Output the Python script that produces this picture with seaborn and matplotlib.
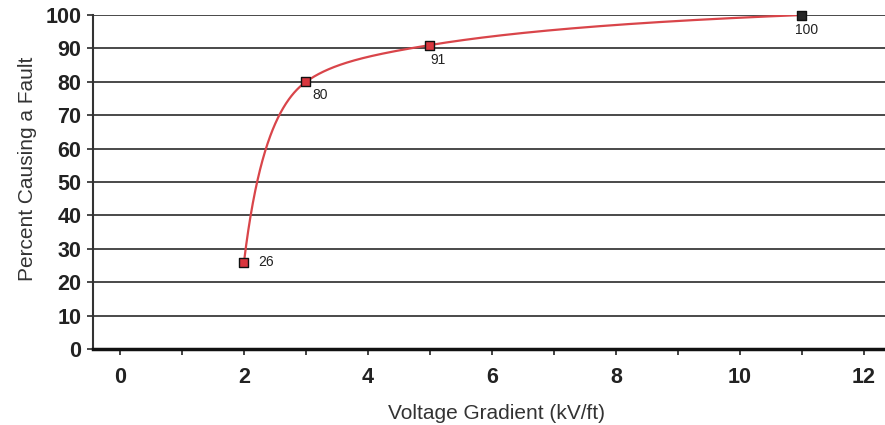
import matplotlib
matplotlib.use("Agg")
import matplotlib.pyplot as plt
import numpy as np
import pandas as pd
import seaborn as sns

# data
gradient = [2, 3, 5, 11]          # kV/ft
percent = [26, 80, 91, 100]       # percent causing a fault
point_labels = ["26", "80", "91", "100"]
x_ticks = list(range(0, 13))
x_ticklabels = [str(t) if t % 2 == 0 else "" for t in x_ticks]
y_ticks = list(range(0, 101, 10))


def pchip(x, y, xs):
    """Monotone cubic (Fritsch-Carlson) evaluated at xs"""
    x = np.asarray(x, float)
    y = np.asarray(y, float)
    h = np.diff(x)
    delta = np.diff(y) / h
    d = np.zeros_like(y)
    for k in range(1, len(x) - 1):
        if delta[k - 1] * delta[k] > 0:
            w1 = 2 * h[k] + h[k - 1]
            w2 = h[k] + 2 * h[k - 1]
            d[k] = (w1 + w2) / (w1 / delta[k - 1] + w2 / delta[k])

    def end_slope(h0, h1, d0, d1):
        s = ((2 * h0 + h1) * d0 - h0 * d1) / (h0 + h1)
        if np.sign(s) != np.sign(d0):
            s = 0.0
        elif np.sign(d0) != np.sign(d1) and abs(s) > abs(3 * d0):
            s = 3 * d0
        return s

    d[0] = end_slope(h[0], h[1], delta[0], delta[1])
    d[-1] = end_slope(h[-1], h[-2], delta[-1], delta[-2])
    k = np.clip(np.searchsorted(x, xs) - 1, 0, len(h) - 1)
    t = (xs - x[k]) / h[k]
    h00 = 2 * t**3 - 3 * t**2 + 1
    h10 = t**3 - 2 * t**2 + t
    h01 = -2 * t**3 + 3 * t**2
    h11 = t**3 - t**2
    return h00 * y[k] + h10 * h[k] * d[k] + h01 * y[k + 1] + h11 * h[k] * d[k + 1]


def smooth_line(x, y, n=600):
    # smoothing done on a log-shifted x so the curve rises steeply at the start
    x0 = x[0] - 0.4
    u = np.log(np.asarray(x, float) - x0)
    us = np.linspace(u[0], u[-1], n)
    return np.exp(us) + x0, pchip(u, y, us)


sns.set_theme(style="white")
plt.rcParams['font.family'] = ['Liberation Sans', 'DejaVu Sans']

fig = plt.figure(figsize=(8.85, 4.25), dpi=100)
ax = fig.add_axes([0.1051, 0.1788, 0.8949, 0.7859])

# horizontal grid lines (also act as the y tick marks)
for yv in y_ticks[1:]:
    ax.axhline(yv, color='#3a3a3a', lw=1.3, zorder=1)

cx, cy = smooth_line(gradient, percent)
curve = pd.DataFrame({'x': cx, 'y': cy})
sns.lineplot(data=curve, x='x', y='y', ax=ax, color='#d9454a', lw=1.6,
             sort=False, estimator=None, zorder=3)

pts = pd.DataFrame({'x': gradient, 'y': percent})
face = ['#d9363e'] * (len(gradient) - 1) + ['#262626']
ax.scatter(pts['x'], pts['y'], marker='s', s=42, c=face,
           edgecolors='#111111', linewidths=1.0, zorder=4, clip_on=False)

offsets = [(10.5, 0), (10, -9.5), (5.5, -11), (3.5, -11)]
aligns = [('left', 'center'), ('center', 'center'), ('center', 'center'), ('center', 'center')]
for xv, yv, lab, off, al in zip(gradient, percent, point_labels, offsets, aligns):
    ax.annotate(lab, (xv, yv), xytext=off, textcoords='offset points',
                ha=al[0], va=al[1], fontsize=10, color='#222222')

ax.set_xlim(-0.435, 12.34)
ax.set_ylim(0, 100)
ax.set_xticks(x_ticks)
ax.set_xticklabels(x_ticklabels)
ax.set_yticks(y_ticks)
ax.tick_params(axis='x', direction='out', length=4.5, width=1.2, color='#222222',
               pad=8.5, labelsize=15.5, labelcolor='#222222', bottom=True)
ax.tick_params(axis='y', direction='out', length=4.5, width=1.3, color='#3a3a3a',
               pad=4, labelsize=15.5, labelcolor='#222222', left=True)
for lab in ax.get_xticklabels() + ax.get_yticklabels():
    lab.set_fontweight('bold')

for side in ['top', 'right']:
    ax.spines[side].set_visible(False)
ax.spines['left'].set_color('#333333')
ax.spines['left'].set_linewidth(1.5)
ax.spines['bottom'].set_color('#111111')
ax.spines['bottom'].set_linewidth(2.5)

ax.set_xlabel('Voltage Gradient (kV/ft)', fontsize=15, color='#333333')
ax.set_ylabel('Percent Causing a Fault', fontsize=15, color='#333333')
ax.yaxis.set_label_coords(-0.071, 0.54)
ax.xaxis.set_label_coords(0.51, -0.165)

fig.savefig('out.png', dpi=100)
